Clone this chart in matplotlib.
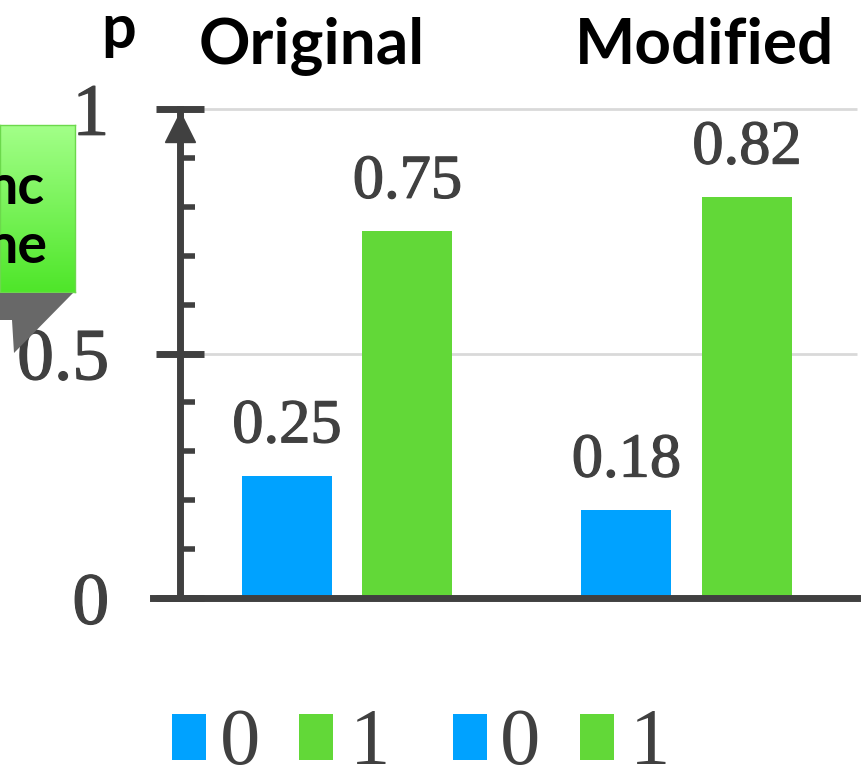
import numpy as np
import matplotlib
matplotlib.use("Agg")
import matplotlib.pyplot as plt
import matplotlib.patheffects as pe
from matplotlib.patches import Rectangle, Polygon

# datos del grafico
grupos = ["Original", "Modified"]
clases = ["0", "1"]
valores = [[0.25, 0.75], [0.18, 0.82]]
colores = ["#00A2FF", "#62D838"]
ticks_y = [0, 0.5, 1]
etiquetas_y = ["0", "0.5", "1"]

W, H = 863, 768
GRIS = "#404040"
SERIF = "Liberation Serif"
SANS = "Lato"
# engrosar un poco el serif
grueso = [pe.withStroke(linewidth=0.9, foreground=GRIS)]


def fx(x):
    return x / W


def fy(y):
    return 1 - y / H


fig = plt.figure(figsize=(W / 100, H / 100), dpi=100)
ax = fig.add_axes([fx(153), fy(598), fx(857 - 153), (598 - 109) / H])

x0 = np.arange(len(grupos))
desp = 0.1775
ancho = 0.265
for i, g in enumerate(grupos):
    for j, c in enumerate(clases):
        xb = x0[i] + (j - 0.5) * 2 * desp
        v = valores[i][j]
        ax.bar(xb, v, width=ancho, color=colores[j], zorder=2)
        ax.annotate(f"{v:.2f}", (xb, v), xytext=(0, 14), textcoords="offset points",
                    ha="center", va="bottom", fontsize=45, family=SERIF,
                    color=GRIS, path_effects=grueso)

ax.set_xlim(-0.572, 1.5015)
ax.set_ylim(0, 1)
xeje = -0.4926

# ejes: vertical con flecha y linea base
for s in ["top", "right", "bottom"]:
    ax.spines[s].set_visible(False)
ax.spines["left"].set_position(("data", xeje))
ax.spines["left"].set_linewidth(5)
ax.spines["left"].set_color(GRIS)
ax.spines["left"].set_bounds(0, 1)
ax.spines["left"].set_zorder(4)
ax.axhline(0, color=GRIS, lw=5, clip_on=False, zorder=4)
ax.plot([xeje], [0.963], marker="^", markersize=22, color=GRIS,
        clip_on=False, zorder=5)

ax.set_xticks([])
ax.set_yticks(ticks_y)
ax.set_yticklabels(etiquetas_y, family=SERIF, fontsize=53, color=GRIS)
for t in ax.get_yticklabels():
    t.set_path_effects(grueso)
ax.set_yticks(np.arange(0.1, 1.0, 0.1), minor=True)
ax.tick_params(axis="y", which="major", direction="inout", length=34,
               width=5, color=GRIS, pad=34)
ax.tick_params(axis="y", which="minor", direction="in", length=11,
               width=4, color=GRIS)

# lineas de cuadricula
ax.hlines([0.5, 1], -0.4337, 1.5015, color="#d9d9d9", lw=2, zorder=1,
          clip_on=False)

# titulos
fig.text(fx(312), fy(46), grupos[0], fontsize=46, family=SANS,
         fontweight="bold", ha="center", va="center")
fig.text(fx(704), fy(46), grupos[1], fontsize=46, family=SANS,
         fontweight="bold", ha="center", va="center")
fig.text(fx(119), fy(30), "p", fontsize=44, family=SANS,
         fontweight="bold", ha="center", va="center")

# recuadro verde con degradado
axc = fig.add_axes([0, fy(292), fx(75), (292 - 125) / H])
grad = np.linspace(0, 1, 100).reshape(-1, 1)
cmap = matplotlib.colors.LinearSegmentedColormap.from_list(
    "verde", ["#a2ff88", "#4fe62a"])
axc.imshow(grad, aspect="auto", cmap=cmap, extent=[0, 1, 0, 1],
           origin="upper")
axc.set_xticks([])
axc.set_yticks([])
for s in axc.spines.values():
    s.set_color("#6cd84c")
    s.set_linewidth(1)
axc.text(0.6, 0.62, "nc", transform=axc.transAxes, ha="right",
         va="center", fontsize=40, family=SANS, fontweight="bold")
axc.text(0.64, 0.27, "ne", transform=axc.transAxes, ha="right",
         va="center", fontsize=40, family=SANS, fontweight="bold")
fig.add_artist(Polygon([(fx(0), fy(293)), (fx(73), fy(293)),
                        (fx(14), fy(353)), (fx(12), fy(320)),
                        (fx(0), fy(320))], closed=True,
                       facecolor="#686868", edgecolor="none",
                       transform=fig.transFigure))

# leyendas bajo cada grupo
pos_leyenda = [(172, 223), (299, 353), (453, 503), (580, 633)]
k = 0
for i in range(len(grupos)):
    for j, c in enumerate(clases):
        xq, xt = pos_leyenda[k]
        fig.add_artist(Rectangle((fx(xq), fy(760)), fx(34), 46 / H,
                                 facecolor=colores[j], edgecolor="none",
                                 transform=fig.transFigure))
        fig.text(fx(xt - 3), fy(764), c, fontsize=58, family=SERIF,
                 color=GRIS, ha="left", va="baseline")
        k += 1

fig.savefig("out.png", dpi=100)
